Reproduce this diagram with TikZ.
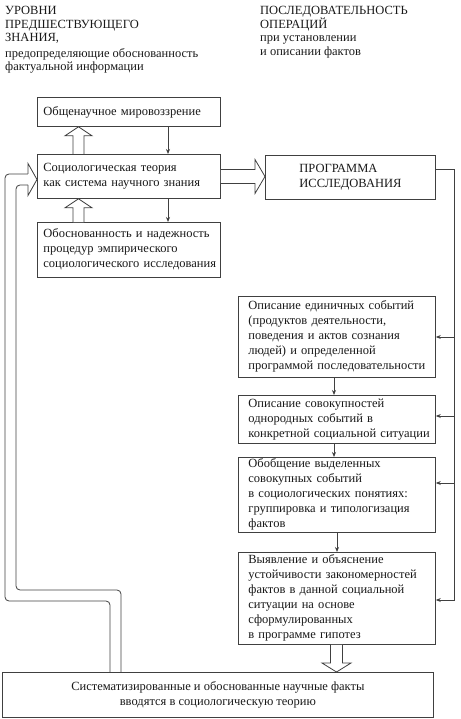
\documentclass[tikz,border=0pt]{standalone}
\usepackage{fontspec}
\setmainfont{Liberation Serif}
\usetikzlibrary{calc,arrows.meta}
\newcommand\mylines[1]{\begin{tabular}{@{}l@{}}#1\end{tabular}}
\begin{document}
\begin{tikzpicture}[x=1pt,y=-1pt,
  txt/.style={font=\fontsize{12.5}{15}\selectfont, text=black!90},
  hdr/.style={font=\fontsize{12.5}{13.5}\selectfont, text=black!90, align=left, inner sep=0pt, anchor=north west},
  bx/.style={draw=black!75, line width=0.8pt, fill=white, txt, inner ysep=0pt, anchor=north west},
  lbx/.style={bx, align=left, inner xsep=6pt, text width=171pt},
  rbx/.style={bx, align=left, inner xsep=10pt, text width=177pt},
  cn/.style={draw=black!75, line width=0.8pt},
  tarr/.style={cn, -{Stealth[length=5pt,width=4pt]}},
  hol/.style={draw=black!75, line width=0.8pt, fill=white, line join=miter}
]
\useasboundingbox (0,0) rectangle (460,719);

% headers
\node[hdr] (hl) at (5,6.5) {УРОВНИ\\ПРЕДШЕСТВУЮЩЕГО\\ЗНАНИЯ,\\[2pt]предопределяющие обоснованность\\фактуальной информации};
\node[hdr] (hr) at (260,6.5) {ПОСЛЕДОВАТЕЛЬНОСТЬ\\ОПЕРАЦИЙ\\при установлении\\и описании фактов};

% left column
\node[lbx, minimum height=29pt] (b1) at (37,97) {Общенаучное мировоззрение};
\node[lbx, minimum height=44pt] (socio) at (37,154) {\mylines{Социологическая теория\\как система научного знания}};
\node[lbx, minimum height=55pt] (b3) at (37,222) {\mylines{Обоснованность и надежность\\процедур эмпирического\\социологического исследования}};

% program
\node[bx, align=left, minimum width=170pt, minimum height=44pt, inner xsep=0pt] (prog) at (265,155) {\mylines{ПРОГРАММА\\ИССЛЕДОВАНИЯ}};

% right column
\node[rbx, minimum height=81pt] (b4) at (238,296) {\mylines{Описание единичных событий\\(продуктов деятельности,\\поведения и актов сознания\\людей) и определенной\\программой последовательности}};
\node[rbx, minimum height=48pt] (b5) at (238,395) {\mylines{Описание совокупностей\\однородных событий в\\конкретной социальной ситуации}};
\node[rbx, minimum height=75pt] (b6) at (238,457) {\mylines{Обобщение выделенных\\совокупных событий\\в социологических понятиях:\\группировка и типологизация\\фактов}};
\node[rbx, minimum height=92pt] (b7) at (238,552) {\mylines{Выявление и объяснение\\устойчивости закономерностей\\фактов в данной социальной\\ситуации на основе\\сформулированных\\в программе гипотез}};

% bottom
\node[bx, align=center, minimum width=431pt, minimum height=45pt] (bot) at (2,672) {Систематизированные и обоснованные научные факты\\вводятся в социологическую теорию};

% helper coordinates
\coordinate (xl) at (168,0);
\coordinate (xa) at (334,0);
\coordinate (xb) at (337,0);
\coordinate (xv) at (454,0);
\coordinate (hx) at (78.5,0);
\coordinate (hx2) at (336.5,0);
\coordinate (hy) at (0,176.5);
\coordinate (hyl) at (0,179.5);

% thin arrows left column
\draw[tarr] (b1.south -| xl) -- (socio.north -| xl);
\draw[tarr] (socio.south -| xl) -- (b3.north -| xl);
% thin arrows right column
\draw[tarr] (b4.south -| xa) -- (b5.north -| xa);
\draw[tarr] (b5.south -| xa) -- (b6.north -| xa);
\draw[tarr] (b6.south -| xb) -- (b7.north -| xb);

% right trunk
\coordinate (e4) at ($(b4.north east)+(0,41)$);
\coordinate (e5) at ($(b5.north east)+(0,21)$);
\coordinate (e6) at ($(b6.north east)+(0,26)$);
\coordinate (e7) at ($(b7.north east)+(0,48)$);
\draw[tarr] ($(prog.north east)+(0,14)$) -| (e7 -| xv) -- (e7);
\draw[tarr] (e4 -| xv) -- (e4);
\draw[tarr] (e5 -| xv) -- (e5);
\draw[tarr] (e6 -| xv) -- (e6);

% hollow arrows up
\draw[hol] let \p1=(b3.north -| hx), \p2=(socio.south -| hx) in
  (\x1-5.5pt,\y1) -- (\x1-5.5pt,\y2-9pt) -- (\x1-13.5pt,\y2-9pt) -- (\x1,\y2) -- (\x1+13.5pt,\y2-9pt) -- (\x1+5.5pt,\y2-9pt) -- (\x1+5.5pt,\y1);
\draw[hol] let \p1=(socio.north -| hx), \p2=(b1.south -| hx) in
  (\x1-5.5pt,\y1) -- (\x1-5.5pt,\y2-9pt) -- (\x1-13.5pt,\y2-9pt) -- (\x1,\y2) -- (\x1+13.5pt,\y2-9pt) -- (\x1+5.5pt,\y2-9pt) -- (\x1+5.5pt,\y1);
% hollow arrow right
\draw[hol] let \p1=(socio.east |- hy), \p2=(prog.west |- hy) in
  (\x1,\y1+7pt) -- (\x2-10pt,\y1+7pt) -- (\x2-10pt,\y1+17pt) -- (\x2,\y1) -- (\x2-10pt,\y1-17pt) -- (\x2-10pt,\y1-7pt) -- (\x1,\y1-7pt);
% hollow arrow down
\draw[hol] let \p1=(b7.south -| hx2), \p2=(bot.north -| hx2) in
  (\x1-6pt,\y1) -- (\x1-6pt,\y2+9pt) -- (\x1-14.5pt,\y2+9pt) -- (\x1,\y2) -- (\x1+14.5pt,\y2+9pt) -- (\x1+6pt,\y2+9pt) -- (\x1+6pt,\y1);

% feedback double line
\coordinate (fo) at ($(bot.north west)+(108,0)$);
\coordinate (fi) at ($(bot.north west)+(119,0)$);
\draw[cn, rounded corners=4pt] (fo) -- (fo |- 0,601) -- (5,601) -- (5,174) -- (28,174);
\draw[cn, rounded corners=4pt] (fi) -- (fi |- 0,590) -- (16,590) -- (16,185) -- (28,185);
\draw[hol] (28,174) -- (28,163.5) -- (socio.west |- hyl) -- (28,195.5) -- (28,185);
\end{tikzpicture}
\end{document}
